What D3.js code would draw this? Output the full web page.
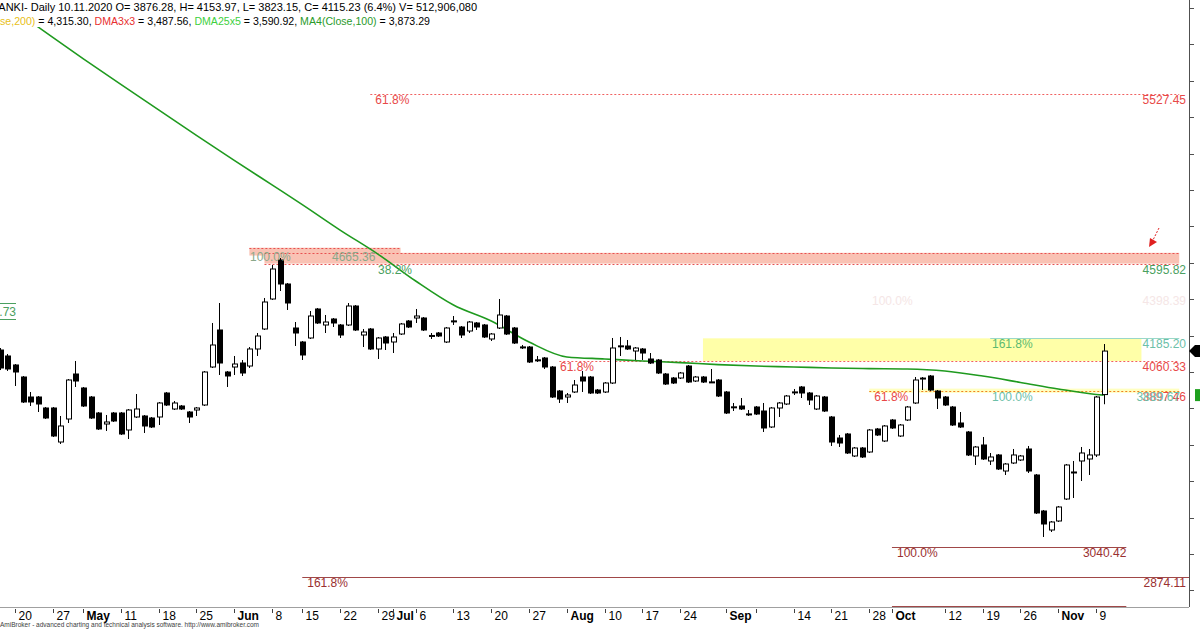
<!DOCTYPE html>
<html><head><meta charset="utf-8">
<script src="https://cdn.jsdelivr.net/npm/d3@7"></script>
<style>body{margin:0;background:#fff;overflow:hidden}svg{display:block;font-family:"Liberation Sans",Arial,sans-serif}</style>
</head><body><svg id="c" width="1200" height="630"></svg>
<script>
// ---------- DATA ----------
const holidays = ["2020-05-01","2020-06-11"];
const firstDay = "2020-04-16", lastDay = "2020-11-10", blankEnd = "2020-11-30";
const open  = [4121,4088.2,4038.8,3972.8,3862.9,3862.9,3802.5,3802.5,3615.7,3742.1,3989.3,3912.4,3862.9,3775,3714.6,3775,3775,3681.7,3753.1,3758.6,3747.6,3753.1,3884.9,3797,3813.5,3780.5,3791.5,3819,4027.7,4231,4000.3,4027.7,4049.7,4033.2,4126.6,4236.5,4401.3,4615.5,4483.7,4242,4165.1,4187.1,4346.4,4258.5,4291.4,4258.5,4258.5,4362.8,4203.5,4236.5,4126.6,4192.6,4165.1,4209,4280.4,4296.9,4296.9,4200,4214.5,4165.1,4281,4247.5,4225.5,4269.5,4258.5,4181.6,4242,4307.9,4242,4138,4137.6,4067,4077.2,4027.7,3895.9,3862.9,3890.4,3972.8,3972.8,3901.4,3890.4,3939.8,4143,4143.1,4115.6,4126.6,4071.7,4066.2,3989.3,3967.3,3967.3,4033.2,3950.8,3972.8,3945,3956.3,3890.4,3808,3813.5,3769.5,3808,3786,3698.2,3802.5,3824.5,3890,3917.9,3884.9,3797,3862.9,3753.1,3637.7,3659.7,3538.9,3582.8,3560.8,3687.2,3621.2,3736.6,3648.7,3736.6,3830,3966,3978.3,3895.9,3862.9,3808,3720.1,3670.7,3538.9,3599.3,3511.4,3544.4,3456.4,3500.4,3516.9,3577.3,3434.5,3236.7,3132.3,3181.8,3302.6,3450,3511.4,3522.4,3544.4,3876.28];
const high  = [4132,4099.2,4044.2,3978.3,3890.4,3868.4,3808,3808,3758.6,3961.8,4060.7,3917.9,3868.4,3780.5,3764.1,3780.5,3780.5,3797,3879.4,3764.1,3753.1,3835.5,3890.4,3841,3819,3786,3808,4005.8,4269.5,4379.3,4005.8,4088.2,4066.2,4137.6,4214.5,4406.8,4588.1,4626.5,4489.2,4274.9,4170.6,4335.4,4351.9,4313.4,4296.9,4264,4379.3,4368.3,4236.5,4242,4192.6,4198,4214.5,4269.5,4285.9,4346.4,4302.4,4214.5,4220,4247.5,4307.9,4253,4280.4,4274.9,4264,4214.5,4401.3,4313.4,4247.5,4148.6,4143.1,4088.2,4082.7,4033.2,3901.4,3884.9,3956.3,4005.8,3978.3,3906.9,3945.3,4187.1,4192.6,4176.1,4137.6,4132.1,4104.6,4071.7,3994.8,3972.8,4000.3,4038.7,3978.3,3978.3,4016.8,3961.8,3895.9,3830,3857.4,3791.5,3813.5,3830,3808,3835.5,3873.9,3906.9,3923.4,3890.4,3873.9,3868.4,3758.6,3654.2,3665.2,3588.3,3588.3,3687.2,3692.7,3709.1,3742.1,3714.6,3813.5,3972.8,3972.8,3983.8,3901.4,3868.4,3813.5,3780.5,3676.2,3593.8,3643.2,3555.3,3549.8,3500.4,3577.3,3544.4,3593.8,3440,3242.2,3181.8,3264.2,3494.9,3511.4,3588.3,3577.3,3868.4,4153.97];
const low   = [4011,4005.8,3923.4,3830,3813.5,3780.5,3742.1,3643.2,3604.7,3720.1,3917.9,3808,3742.1,3681.7,3676.2,3725.6,3654.2,3632.2,3747.6,3665.2,3692.7,3709.1,3813.5,3791.5,3791.5,3720.1,3758.6,3813.5,4022.3,3983.8,3917.9,3983.8,3978.3,4022.3,4088.2,4231,4395.8,4445.2,4340.9,4143.1,4066.2,4181.6,4264,4214.5,4247.5,4187.1,4253,4225.5,4137.6,4121.1,4071.7,4121.1,4104.6,4203.5,4242,4269.5,4225.5,4181.6,4192.6,4159.6,4258.5,4187.1,4214.5,4231,4187.1,4170.6,4236.5,4203.5,4154.1,4126.6,4049.7,4055.2,4016.8,3857.4,3830,3830,3884.9,3890.4,3879.4,3879.4,3884.9,3934.3,4088.2,4121.1,4066.2,4066.2,4044.2,3989.3,3928.8,3934.3,3961.8,3939.8,3945.3,3939.8,3939.8,3862.9,3769.5,3786,3791.5,3758.6,3764.1,3670.7,3692.7,3753.1,3819,3873.9,3857.4,3819,3791.5,3780.5,3593.8,3588.3,3549.8,3533.4,3527.9,3555.3,3648.7,3615.7,3687.2,3643.2,3731.1,3824.5,3901.4,3895.9,3797,3813.5,3703.7,3692.7,3538.9,3489.4,3516.9,3489.4,3461.9,3434.5,3494.9,3511.4,3445.4,3220.2,3093.9,3121.3,3176.3,3297.1,3308.1,3401.5,3434.5,3533.4,3823.15];
const close = [4022.3,4016.8,4000.3,3835.5,3835.5,3824.5,3747.6,3648.7,3703.7,3956.3,3950.8,3813.5,3747.6,3687.2,3725.6,3731.1,3659.7,3791.5,3797,3703.7,3698.2,3830,3819,3830,3797,3753.1,3802.5,4000.3,4148.6,4049.7,3978.3,4044.2,3994.8,4126.6,4198,4384.8,4566.1,4483.7,4379.3,4214.5,4093.7,4307.9,4269.5,4274.9,4269.5,4203.5,4362.8,4231,4220,4126.6,4187.1,4159.6,4192.6,4264,4247.5,4307.9,4231,4201,4198,4242,4280,4203.5,4274.9,4247.5,4192.6,4209,4313.4,4209,4159.6,4137,4055.2,4066,4027.7,3862.9,3851.9,3874,3928.8,3950.8,3884.9,3884.9,3939.8,4132.1,4144,4126.6,4132.1,4104.6,4049.7,3994.8,3934.3,3939.8,3994.8,3945.3,3972.8,3945.3,3946,3868.4,3775,3809,3797,3770,3769.5,3692.7,3802.5,3830,3868.4,3891,3884.9,3846.5,3868.4,3786,3615.7,3610.2,3555.3,3582.8,3533.4,3681.7,3654.2,3703.7,3692.7,3709.1,3808,3956.3,3967,3901.4,3857.4,3819,3709.1,3698.2,3544.4,3588.3,3522.4,3533.4,3467.4,3494.9,3544.4,3538.9,3456.4,3225.7,3165.3,3176.3,3258.7,3489.4,3451,3555.3,3544.4,3862.9,4115.23];
// MA4(Close,100) read at weekly points
const maDates  = ["2020-04-20","2020-04-27","2020-05-04","2020-05-11","2020-05-18","2020-05-25","2020-06-01","2020-06-08","2020-06-15","2020-06-22","2020-06-29","2020-07-06","2020-07-13","2020-07-20","2020-07-27","2020-08-03","2020-08-10","2020-08-17","2020-08-24","2020-08-31","2020-09-07","2020-09-14","2020-09-21","2020-09-28","2020-10-05","2020-10-12","2020-10-19","2020-10-26","2020-11-02","2020-11-09","2020-11-10"];
const maValues = [5985,5838,5722,5580,5440,5300,5163,5028,4920,4780,4648,4500,4368,4280,4165,4083,4072,4061,4052,4041,4033,4028,4022,4019,4017,4006,3978,3943,3907,3877,3873.29];
// x-axis tick labels
const tickDates  = ["2020-04-20","2020-04-27","2020-05-04","2020-05-11","2020-05-18","2020-05-25","2020-06-01","2020-06-08","2020-06-15","2020-06-22","2020-06-29","2020-07-01","2020-07-06","2020-07-13","2020-07-20","2020-07-27","2020-08-03","2020-08-10","2020-08-17","2020-08-24","2020-09-01","2020-09-07","2020-09-14","2020-09-21","2020-09-28","2020-10-01","2020-10-12","2020-10-19","2020-10-26","2020-11-02","2020-11-09"];
const tickLabels = ["20","27","May","11","18","25","Jun","8","15","22","29","Jul","6","13","20","27","Aug","10","17","24","Sep","","14","21","28","Oct","12","19","26","Nov","9"];
// Fibonacci / level lines: price, start bar, end bar (null = right edge), labels
const fibPrices = [5527.45, 4595.82, 4060.33, 4185.20, 3897.46, 3040.42, 2874.11, 2715];
const fibFrom   = ["2020-06-26","2020-06-05","2020-07-31","2020-10-20","2020-09-28","2020-10-01","2020-06-15","2020-10-01"];
const fibTo     = ["2020-11-24","2020-11-24","2020-11-24","2020-11-24","2020-11-24","2020-11-13",null,"2020-11-13"];
const fibLeft   = ["61.8%","38.2%","","161.8%","61.8%","100.0%","161.8%",""];
const fibRight  = ["5527.45","4595.82","4060.33","4185.20","3897.46","3040.42","2874.11",""];
const header1 = "BANKI- Daily 10.11.2020 O= 3876.28, H= 4153.97, L= 3823.15, C= 4115.23 (6.4%) V= 512,906,080";

// ---------- RENDER ----------
function tradingDays(s, e, skipHol){
  const out=[]; const d=new Date(s+"T00:00:00Z"), end=new Date(e+"T00:00:00Z");
  while(d<=end){const wd=d.getUTCDay(), k=d.toISOString().slice(0,10);
    if(wd!==0&&wd!==6&&!(skipHol&&holidays.includes(k))) out.push(k); d.setUTCDate(d.getUTCDate()+1);}
  return out;
}
const dates = tradingDays(firstDay, lastDay, true);
const allBars = dates.concat(tradingDays("2020-11-11", blankEnd, false));
const step = 7.56, x0 = 15 - 2*step;
const x = d3.scalePoint().domain(allBars).range([x0, x0 + step*(allBars.length-1)]);
const y = d3.scaleLinear().domain([2874.11, 5527.45]).range([577, 94]);
const RIGHT = 1189, BOTTOM = 607;

const svg = d3.select("#c");
svg.append("rect").attr("width",1200).attr("height",630).attr("fill","#fff");

const candles = dates.map((d,i)=>({d, o:open[i], h:high[i], l:low[i], c:close[i]}));

// bands
const bandG = svg.append("g");
bandG.append("rect").attr("x",x("2020-06-03")).attr("width",x("2020-07-02")-x("2020-06-03"))
  .attr("y",y(4683)).attr("height",y(4640)-y(4683)).attr("fill","#f9c2b4");
bandG.append("rect").attr("x",x("2020-06-05")).attr("width",x("2020-11-24")-x("2020-06-05"))
  .attr("y",y(4655)).attr("height",y(4595.82)-y(4655)).attr("fill","#f9c2b4");
bandG.append("rect").attr("x",x("2020-08-27")).attr("width",x("2020-11-17")-x("2020-08-27"))
  .attr("y",y(4185.2)).attr("height",y(4060.33)-y(4185.2)).attr("fill","#ffffa8");
bandG.append("rect").attr("x",x("2020-09-28")).attr("width",x("2020-11-24")-x("2020-09-28"))
  .attr("y",y(3909)).attr("height",y(3886)-y(3909)).attr("fill","#ffffc0");

// dotted red band edges
const dot = (p, a, b, col) => svg.append("line").attr("x1",a).attr("x2",b).attr("y1",Math.round(y(p))+0.5).attr("y2",Math.round(y(p))+0.5)
  .attr("stroke",col).attr("stroke-width",1).attr("stroke-dasharray","2,2");
dot(4683, x("2020-06-03"), x("2020-07-02"), "#e85050");
dot(4655, x("2020-06-05"), x("2020-11-24"), "#e85050");
dot(4595.82, x("2020-06-05"), x("2020-11-24"), "#e85050");

// fib lines
fibPrices.forEach((p,i)=>{
  const a = x(fibFrom[i]), b = fibTo[i] ? x(fibTo[i]) : RIGHT;
  const yy = Math.round(y(p))+0.5;
  const solid = p < 3100;
  let col = solid ? "#a04848" : (i===1 ? null : (i===3 ? "#9ad8c8" : (i===4 ? "#f08020" : "#f06060")));
  if (col) svg.append("line").attr("x1",a).attr("x2",b).attr("y1",yy).attr("y2",yy)
    .attr("stroke",col).attr("stroke-width",1).attr("stroke-dasharray", solid||i===3 ? null : "2,2");
});

// MA line
const maLine = d3.line().x(d=>x(d[0])).y(d=>y(d[1])).curve(d3.curveMonotoneX);
svg.append("path").datum(maDates.map((d,i)=>[d,maValues[i]])).attr("d",maLine)
  .attr("fill","none").attr("stroke","#1f9a1f").attr("stroke-width",1.6);

// candles
const cg = svg.append("g");
cg.selectAll("line").data(candles).join("line")
  .attr("x1",d=>Math.round(x(d.d))+0.5).attr("x2",d=>Math.round(x(d.d))+0.5)
  .attr("y1",d=>y(d.h)).attr("y2",d=>y(d.l)).attr("stroke","#000").attr("stroke-width",1);
cg.selectAll("rect").data(candles).join("rect")
  .attr("x",d=>Math.round(x(d.d))-2+0.5).attr("width",5)
  .attr("y",d=>y(Math.max(d.o,d.c))).attr("height",d=>Math.max(1,Math.abs(y(d.o)-y(d.c))))
  .attr("fill",d=>d.c>=d.o?"#fff":"#000").attr("stroke","#000").attr("stroke-width",1);

// fib labels
const T = (t, xx, yy, col, anchor, extra) => { const e = svg.append("text").attr("x",xx).attr("y",yy).attr("fill",col)
  .attr("font-size",12).attr("text-anchor",anchor||"start").text(t); if(extra) extra(e); return e; };
const labCol = ["#e84848","#4aa060","#e84848","#5cba70","#e84848","#9a3030","#9a3030",""];
const rCol   = ["#e84848","#4aa060","#e84848","#6cc0a8","#e84848","#9a3030","#9a3030",""];
fibPrices.forEach((p,i)=>{
  const yy = y(p) + 10;
  if (fibLeft[i]) {
    let lx = x(fibFrom[i]) + 5;
    if (i===1) lx = 378; if (i===3) lx = 992;
    T(fibLeft[i], lx, yy, labCol[i]);
  }
  if (fibRight[i]) T(fibRight[i], i===5 ? x(fibTo[i]) : 1186, yy, rCol[i], "end");
});
T("61.8%", 560, y(4060.33)+10, "#e84848");
T("100.0%", 992, y(3897.46)+10, "#6cc0a8");
T("3889.67", 1180, y(3897.46)+10, "#6cc0a8", "end");
T("100.0%", 250, y(4665.36)+10, "#8aa88a");
T("4665.36", 332, y(4665.36)+10, "#8aa88a");
T("100.0%", 872, y(4398.39)+5, "#f5e6e6");
T("4398.39", 1186, y(4398.39)+5, "#f5e6e6", "end");

// left partial label
svg.append("line").attr("x1",0).attr("x2",16).attr("y1",303.5).attr("y2",303.5).attr("stroke","#4aa060");
svg.append("line").attr("x1",0).attr("x2",16).attr("y1",319.5).attr("y2",319.5).attr("stroke","#4aa060");
T("4373.73", 16, 316, "#4aa060", "end");

// red arrow
svg.append("line").attr("x1",1159).attr("y1",228).attr("x2",1153).attr("y2",240).attr("stroke","#e02020").attr("stroke-dasharray","2,1.5");
svg.append("path").attr("d","M1149,247 L1150,238 L1157,242 Z").attr("fill","#e02020");

// axes
svg.append("line").attr("x1",RIGHT+0.5).attr("x2",RIGHT+0.5).attr("y1",0).attr("y2",BOTTOM).attr("stroke","#505050");
const yTicks = d3.range(2800, 6001, 200);
svg.selectAll(".yt").data(yTicks).join("line").attr("class","yt")
  .attr("x1",RIGHT).attr("x2",RIGHT+5).attr("y1",d=>Math.round(y(d))+0.5).attr("y2",d=>Math.round(y(d))+0.5).attr("stroke","#505050");
svg.append("line").attr("x1",0).attr("x2",RIGHT).attr("y1",BOTTOM+0.5).attr("y2",BOTTOM+0.5).attr("stroke","#a0a0a0");
// price markers
svg.append("path").attr("d",`M${RIGHT},${y(4115.23)} l6,-6 h12 v12 h-12 Z`).attr("fill","#000");
svg.append("rect").attr("x",1195).attr("y",y(3873.29)-6).attr("width",10).attr("height",12).attr("fill","#1fa01f");

// x ticks
tickDates.forEach((d,i)=>{
  const xx = Math.round(x(d))+0.5;
  svg.append("line").attr("x1",xx).attr("x2",xx).attr("y1",609).attr("y2",613).attr("stroke","#404040");
  const bold = isNaN(+tickLabels[i]);
  T(tickLabels[i], xx+3, 620, "#000", "start", e=>e.attr("font-weight",bold?"bold":"normal"));
});

// header
svg.append("rect").attr("x",0).attr("y",0).attr("width",495).attr("height",27).attr("fill","#fff");
T(header1, -9, 11, "#000", "start", e=>e.attr("font-size",11));
const h2 = svg.append("text").attr("x",0).attr("y",25).attr("font-size",10.6);
[["se,200)","#e8c020"],[" = 4,315.30, ","#000"],["DMA3x3","#e83030"],[" = 3,487.56, ","#000"],["DMA25x5","#40d040"],[" = 3,590.92, ","#000"],["MA4(Close,100)","#2a9a2a"],[" = 3,873.29","#000"]]
  .forEach(([t,c])=>h2.append("tspan").attr("fill",c).text(t));
// footer
T("AmiBroker - advanced charting and technical analysis software. http://www.amibroker.com", 0, 627, "#404040", "start", e=>e.attr("font-size",6.5));
</script></body></html>
